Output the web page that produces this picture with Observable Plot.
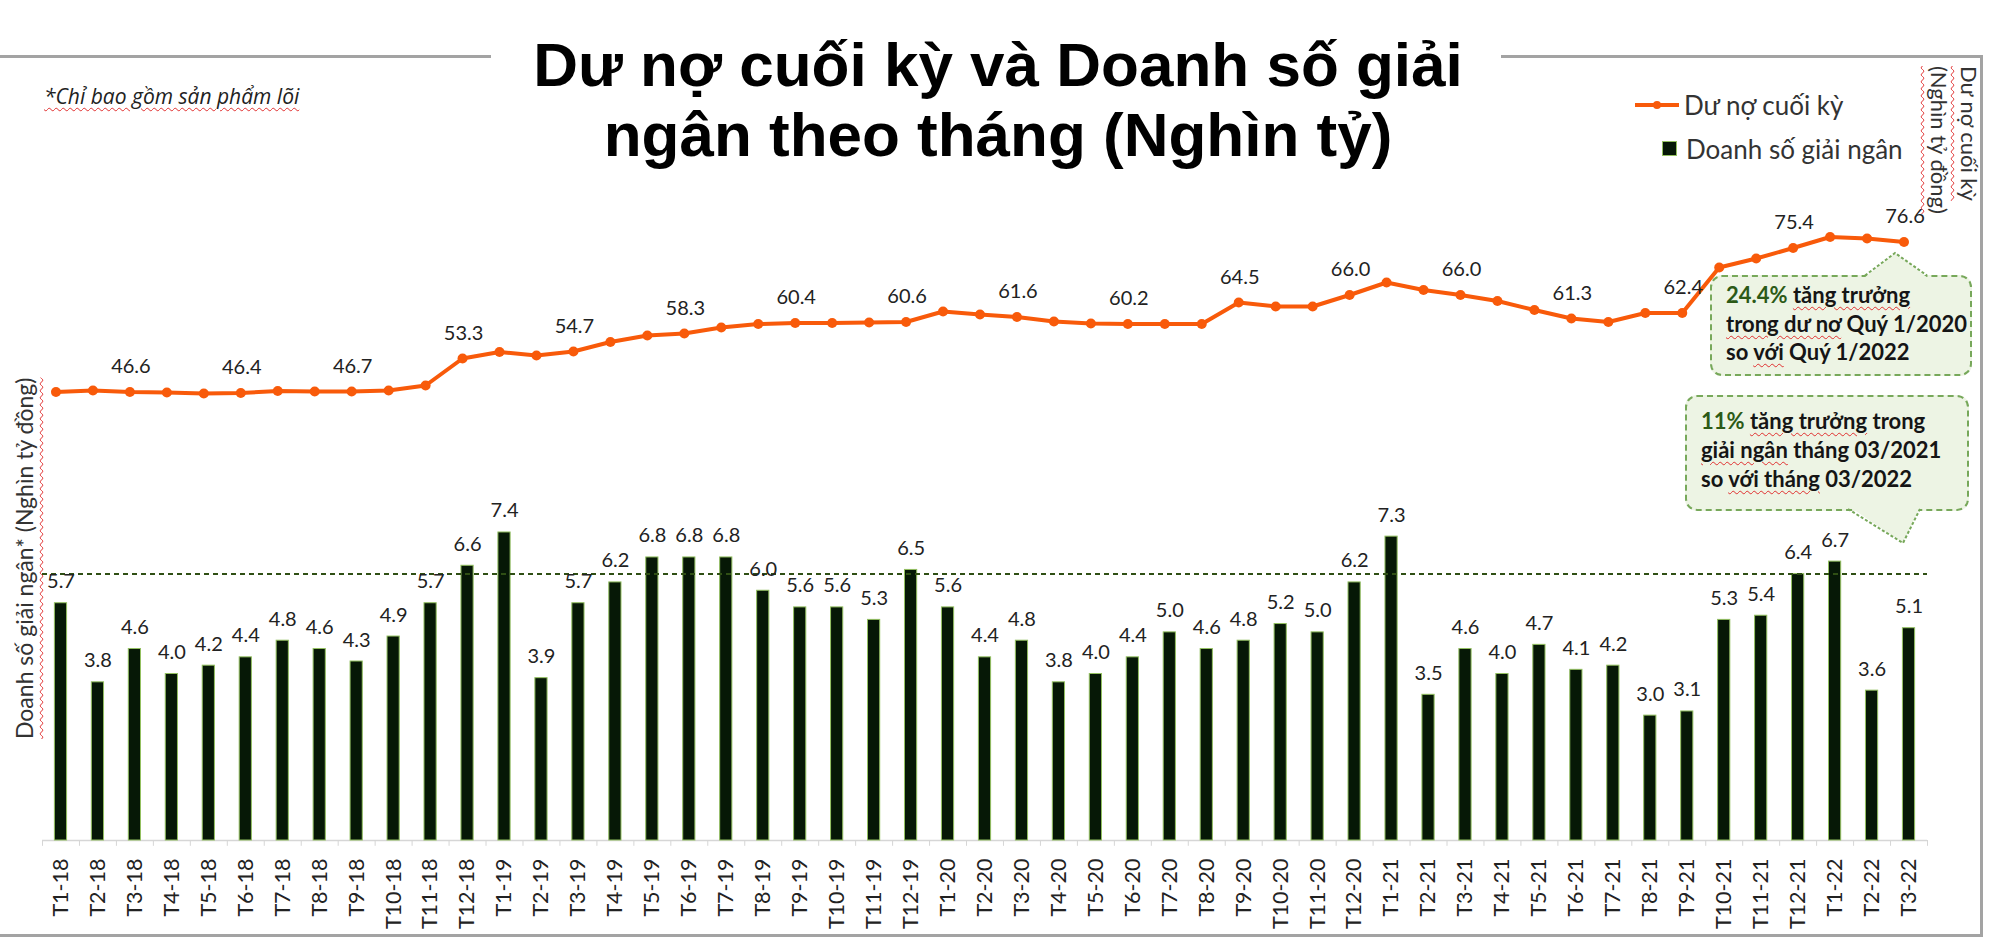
<!DOCTYPE html>
<html>
<head>
<meta charset="utf-8">
<script src="https://cdn.jsdelivr.net/npm/d3@7"></script>
<script src="https://cdn.jsdelivr.net/npm/@observablehq/plot@0.6"></script>
<style>
  body { margin: 0; background: #fff; }
  #wrap { position: relative; width: 2000px; height: 940px; overflow: hidden; font-family: Lato, "Open Sans", sans-serif; color: #222; }
  #header { position: relative; height: 170px; }
  .abs { position: absolute; white-space: nowrap; }
  .frame { position: absolute; background: #a3a3a3; }
  .wavy { text-decoration: underline wavy #e03030; text-decoration-thickness: 1px; text-underline-offset: 3px; }
  #title { left: 0; width: 1996px; top: 30px; text-align: center; font-family: "Liberation Sans", Arial, sans-serif; font-weight: bold; font-size: 62px; line-height: 70px; color: #000; }
  #note { left: 44px; top: 82px; font-family: "Open Sans", Lato, sans-serif; font-size: 21px; line-height: 28px; font-style: italic; color: #222; }
  .legtext { font-size: 26px; line-height: 30px; color: #333; }
  #rtitle { left: 1924px; top: 66px; writing-mode: vertical-rl; font-size: 22px; line-height: 30px; color: #333; }
  #ltitle { left: 10px; top: 375px; height: 367px; writing-mode: vertical-rl; transform: rotate(180deg); text-align: center; font-size: 23px; line-height: 28px; color: #333; }
  .box { position: absolute; box-sizing: border-box; background: #edf4e4; border: 2px dashed #77a85a; border-radius: 12px; }
  .boxtext { font-weight: bold; font-size: 22px; color: #151515; }
  .pct { color: #2c5a17; }
</style>
</head>
<body>
<div id="wrap">
  <div id="header">
    <div class="frame" style="left:0;top:55px;width:491px;height:3px;"></div>
    <div class="frame" style="left:1501px;top:55px;width:482px;height:3px;"></div>
    <div id="title" class="abs">Dư nợ cuối kỳ và Doanh số giải<br>ngân theo tháng (Nghìn tỷ)</div>
    <div id="note" class="abs"><span class="wavy">*Chỉ bao gồm sản phẩm lõi</span></div>
    <div id="legend"></div>
  </div>
  <div id="chart"></div>
  <div class="frame" style="left:1980px;top:55px;width:3px;height:882px;"></div>
  <div class="frame" style="left:0;top:934px;width:1983px;height:3px;"></div>
  <div id="rtitle" class="abs"><span class="wavy">Dư nợ cuối kỳ</span><br><span class="wavy">(Nghìn tỷ đồng)</span></div>
  <div id="ltitle" class="abs"><span class="wavy">Doanh số giải ngân* (Nghìn tỷ đồng)</span></div>

  <div class="box" style="left:1710px;top:275px;width:262px;height:101px;"></div>
  <svg class="abs" style="left:1860px;top:250px;" width="72" height="30">
    <polygon points="4,28 35,3 68,28" fill="#edf4e4"/>
    <polyline points="5,25.5 35,3 67,25.5" fill="none" stroke="#77a85a" stroke-width="2" stroke-dasharray="3,2"/>
  </svg>
  <div class="abs boxtext" style="left:1726px;top:281px;line-height:28.5px;">
    <span class="pct">24.4%</span> <span class="wavy">tăng trưởng</span><br>
    <span class="wavy">trong dư nơ</span> Quý 1/2020<br>
    so <span class="wavy">với</span> Quý 1/2022
  </div>

  <div class="box" style="left:1685px;top:395px;width:284px;height:116px;"></div>
  <svg class="abs" style="left:1843px;top:505px;" width="82" height="42">
    <polygon points="4,0 60,38 78,0" fill="#edf4e4"/>
    <polyline points="5,4 60,38 77,4" fill="none" stroke="#77a85a" stroke-width="2" stroke-dasharray="3,2"/>
  </svg>
  <div class="abs boxtext" style="left:1701px;top:406px;line-height:29px;">
    <span class="pct">11%</span> <span class="wavy">tăng trưởng</span> trong<br>
    <span class="wavy">giải ngân</span> tháng 03/2021<br>
    so <span class="wavy">với tháng</span> 03/2022
  </div>
</div>
<script>
// ---- Data ----
const months = [
  "T1-18","T2-18","T3-18","T4-18","T5-18","T6-18","T7-18","T8-18","T9-18","T10-18","T11-18","T12-18",
  "T1-19","T2-19","T3-19","T4-19","T5-19","T6-19","T7-19","T8-19","T9-19","T10-19","T11-19","T12-19",
  "T1-20","T2-20","T3-20","T4-20","T5-20","T6-20","T7-20","T8-20","T9-20","T10-20","T11-20","T12-20",
  "T1-21","T2-21","T3-21","T4-21","T5-21","T6-21","T7-21","T8-21","T9-21","T10-21","T11-21","T12-21",
  "T1-22","T2-22","T3-22"
];
// Doanh số giải ngân (Nghìn tỷ đồng) - bars
const disbursement = [
  5.7,3.8,4.6,4.0,4.2,4.4,4.8,4.6,4.3,4.9,5.7,6.6,
  7.4,3.9,5.7,6.2,6.8,6.8,6.8,6.0,5.6,5.6,5.3,6.5,
  5.6,4.4,4.8,3.8,4.0,4.4,5.0,4.6,4.8,5.2,5.0,6.2,
  7.3,3.5,4.6,4.0,4.7,4.1,4.2,3.0,3.1,5.3,5.4,6.4,
  6.7,3.6,5.1
];
// Dư nợ cuối kỳ (Nghìn tỷ đồng) - line
const outstanding = [
  46.6,46.9,46.6,46.5,46.3,46.4,46.8,46.7,46.7,46.9,47.9,53.3,
  54.6,53.9,54.7,56.6,57.9,58.3,59.5,60.2,60.4,60.4,60.5,60.6,
  62.7,62.1,61.6,60.7,60.3,60.2,60.2,60.2,64.5,63.7,63.7,66.0,
  68.5,67.0,66.0,64.8,63.0,61.3,60.6,62.4,62.4,71.5,73.3,75.4,
  77.6,77.3,76.6
];
// months whose outstanding value is labelled
const labelledMonths = ["T3-18","T6-18","T9-18","T12-18","T3-19","T6-19","T9-19","T12-19",
  "T3-20","T6-20","T9-20","T12-20","T3-21","T6-21","T9-21","T12-21","T3-22"];
const referenceLevel = 6.4;       // dashed reference line (bar axis)
const barDomain = [0, 16];        // left (bar) axis
const lineDomain = [-43.1, 90.1]; // right (line) axis, same pixel span

// ---- Styles ----
const ORANGE = "#f85a0a";
const BAR = "#061806";
const W = 2000, H = 770, ML = 42, MR = 73, MT = 4, MB = 100;
const step = (W - ML - MR) / months.length;

const toBar = d3.scaleLinear().domain(lineDomain).range(barDomain);
const bars = months.map((m, i) => ({month: m, value: disbursement[i]}));
const line = months.map((m, i) => ({month: m, value: outstanding[i], y: toBar(outstanding[i])}));
const lineLabels = line.filter(d => labelledMonths.includes(d.month));
const fmt = d3.format(".1f");

const chart = Plot.plot({
  width: W, height: H,
  marginLeft: ML, marginRight: MR, marginTop: MT, marginBottom: MB,
  x: {domain: months, paddingInner: 0.67, paddingOuter: 0.335, label: null},
  y: {domain: barDomain, axis: null},
  style: {fontFamily: "Lato, 'Open Sans', sans-serif", fontSize: "21px", color: "#222", background: "transparent"},
  marks: [
    Plot.ruleY([0], {stroke: "#d6d6d6", strokeWidth: 1.5}),
    Plot.ruleX(months, {x: d => d, y1: 0, y2: -0.14, dx: -step / 2, stroke: "#d6d6d6"}),
    Plot.ruleX(months.slice(-1), {x: d => d, y1: 0, y2: -0.14, dx: step / 2, stroke: "#d6d6d6"}),
    Plot.barY(bars, {x: "month", y: "value", fill: BAR, stroke: "#93c060", strokeWidth: 1}),
    Plot.ruleY([referenceLevel], {stroke: "#2f4f14", strokeWidth: 2, strokeDasharray: "5,4"}),
    Plot.text(bars, {x: "month", y: "value", text: d => fmt(d.value), dy: -15, lineAnchor: "bottom", fontSize: 20, fill: "#222"}),
    Plot.line(line, {x: "month", y: "y", stroke: ORANGE, strokeWidth: 4, dx: -5}),
    Plot.dot(line, {x: "month", y: "y", r: 5, fill: ORANGE, dx: -5}),
    Plot.text(lineLabels, {x: "month", y: "y", text: d => fmt(d.value), dy: -19, dx: -4, lineAnchor: "bottom", fontSize: 20, fill: "#222"}),
    Plot.axisX({tickRotate: -90, tickSize: 0, tickPadding: 18, fontSize: 21.5, label: null, fill: "#222"})
  ]
});
document.getElementById("chart").appendChild(chart);

// ---- Legend ----
const legend = document.getElementById("legend");
legend.innerHTML = `
  <svg class="abs" style="left:1633px;top:97px;" width="48" height="16">
    <line x1="2" y1="8" x2="46" y2="8" stroke="${ORANGE}" stroke-width="4"/>
    <circle cx="24" cy="8" r="4" fill="${ORANGE}"/>
  </svg>
  <div class="abs legtext" style="left:1684px;top:90px;">Dư nợ cuối kỳ</div>
  <div class="abs" style="left:1662px;top:141px;width:15px;height:15px;box-sizing:border-box;background:${BAR};border:1px solid #93c060;"></div>
  <div class="abs legtext" style="left:1686px;top:134px;">Doanh số giải ngân</div>`;
</script>
</body>
</html>
